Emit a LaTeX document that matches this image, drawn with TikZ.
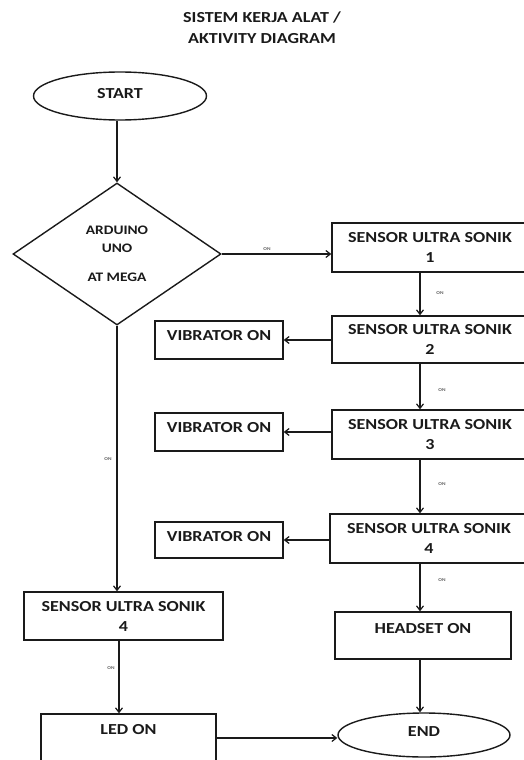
\documentclass[tikz,border=0pt]{standalone}
\usepackage{fontspec}
\setmainfont{Carlito}[FakeStretch=1.18]
\usetikzlibrary{shapes.geometric,arrows.meta}
\definecolor{ink}{HTML}{1A1A1A}
\tikzset{
  every node/.style={text=ink,font=\bfseries},
  boxtxt/.style={font=\fontsize{15.3}{20}\selectfont\bfseries},
  procbox/.style={draw=ink,line width=1.4pt,rectangle,inner sep=0pt,align=center,boxtxt},
  termell/.style={draw=ink,line width=1.4pt,ellipse,inner sep=0pt,boxtxt},
  flow/.style={draw=ink,line width=1.4pt,-{Straight Barb[length=4.5pt,width=7pt,line width=1.2pt]}},
  onlbl/.style={font=\fontsize{4.5}{5}\selectfont\bfseries,text=ink!70,inner sep=0pt}
}
\begin{document}
\begin{tikzpicture}[x=1pt,y=-1pt]
\useasboundingbox (0,0) rectangle (523,760);
% title
\node[boxtxt,align=center,font=\fontsize{15.3}{21}\selectfont\bfseries] (title) at (262,28) {SISTEM KERJA ALAT /\\AKTIVITY DIAGRAM};
% nodes
\node[termell,minimum width=173pt,minimum height=48pt,text depth=6pt] (start) at (120,96) {START};
\node[draw=ink,line width=1.4pt,diamond,minimum width=208pt,minimum height=142pt,inner sep=0pt,align=center,font=\fontsize{13}{18}\selectfont\bfseries] (ard) at (117,254) {ARDUINO\\UNO\\[11pt]AT MEGA};
\node[procbox,minimum width=196pt,minimum height=49pt] (s1) at (430,247.5) {SENSOR ULTRA SONIK\\1};
\node[procbox,minimum width=196pt,minimum height=47pt] (s2) at (430,339.5) {SENSOR ULTRA SONIK\\2};
\node[procbox,minimum width=196pt,minimum height=49pt] (s3) at (430,434.5) {SENSOR ULTRA SONIK\\3};
\node[procbox,minimum width=198pt,minimum height=49pt] (s4) at (429,538.5) {SENSOR ULTRA SONIK\\4};
\node[procbox,minimum width=128pt,minimum height=38pt,text depth=9pt] (v1) at (219,340) {VIBRATOR ON};
\node[procbox,minimum width=128pt,minimum height=38pt,text depth=9pt] (v2) at (219,432) {VIBRATOR ON};
\node[procbox,minimum width=128pt,minimum height=36pt,text depth=8pt] (v3) at (219,540) {VIBRATOR ON};
\node[procbox,minimum width=176pt,minimum height=47pt,text depth=14pt] (hs) at (423,635.5) {HEADSET ON};
\node[termell,minimum width=172pt,minimum height=44pt,text depth=7pt] (end) at (424,735) {END};
\node[procbox,minimum width=199pt,minimum height=48pt] (s4l) at (123.5,616) {SENSOR ULTRA SONIK\\4};
\node[procbox,minimum width=175pt,minimum height=56pt,text depth=26pt] (led) at (128.5,742) {LED ON};
% helper coordinates
\coordinate (cx) at (420,0);
\coordinate (lx) at (119,0);
% connectors
\draw[flow] (start.south -| ard.north) -- (ard.north);
\draw[flow] (ard.east) -- (ard.east -| s1.west);
\draw[flow] (s1.south -| cx) -- (s2.north -| cx);
\draw[flow] (s2.south -| cx) -- (s3.north -| cx);
\draw[flow] (s3.south -| cx) -- (s4.north -| cx);
\draw[flow] (s4.south -| cx) -- (hs.north -| cx);
\draw[flow] (hs.south -| cx) -- (end.north -| cx);
\draw[flow] (s2.west |- v1.east) -- (v1.east);
\draw[flow] (s3.west |- v2.east) -- (v2.east);
\draw[flow] (s4.west |- v3.east) -- (v3.east);
\draw[flow] (ard.south) -- (ard.south |- s4l.north);
\draw[flow] (s4l.south -| lx) -- (led.north -| lx);
\coordinate (ly) at (0,738);
\draw[flow] (led.east |- ly) -- (end.west |- ly);
% ON labels
\node[onlbl] (on1) at (267,249) {ON};
\node[onlbl] (on2) at (440,293) {ON};
\node[onlbl] (on3) at (442,390) {ON};
\node[onlbl] (on4) at (442,484) {ON};
\node[onlbl] (on5) at (442,580) {ON};
\node[onlbl] (on6) at (108,459) {ON};
\node[onlbl] (on7) at (111,668) {ON};
\end{tikzpicture}
\end{document}
